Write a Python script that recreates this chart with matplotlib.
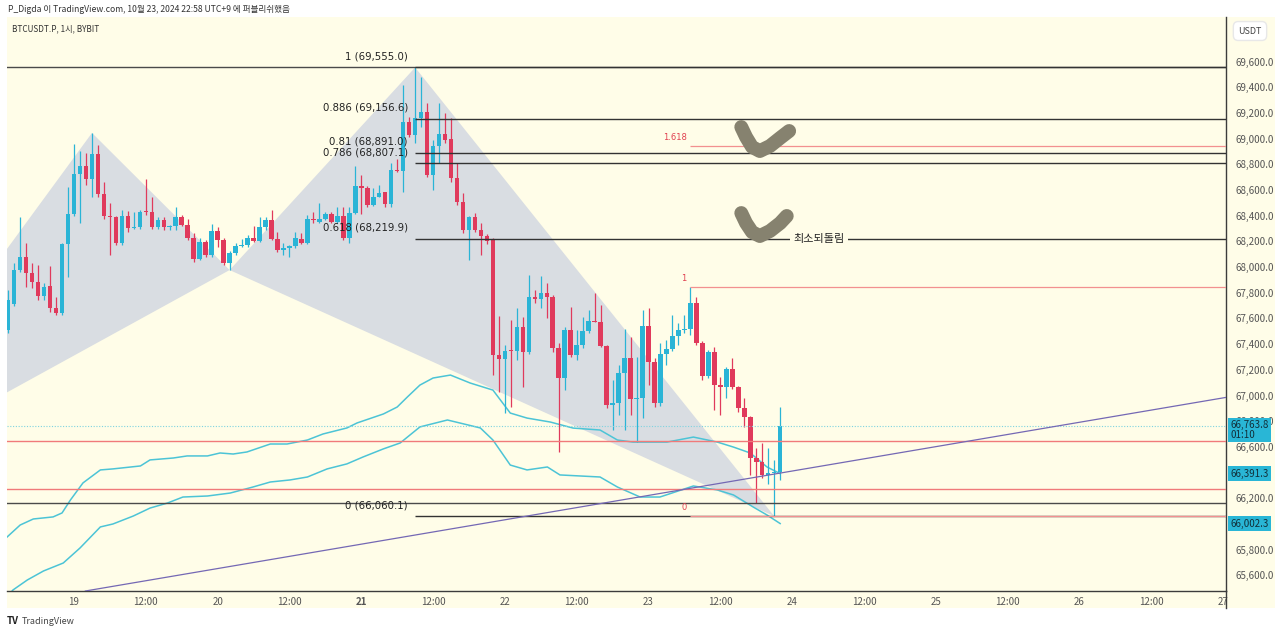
import matplotlib
matplotlib.use('Agg')
import matplotlib.pyplot as plt
import matplotlib.transforms as mtransforms
from matplotlib.patches import Polygon, Rectangle
from matplotlib.lines import Line2D
import numpy as np

plt.rcParams['font.family'] = ['Noto Sans CJK KR', 'DejaVu Sans']

# BTCUSDT.P 1h candles, hour 0 = 10/19 00:00 (UTC+9)
hours = list(range(-11, 119))
opens = [67509, 67713, 67977, 68079, 67954, 67884, 67775, 67853, 67681, 67642,
         68180, 68414, 68725, 68787, 68686, 68881, 68569, 68398, 68390, 68186,
         68398, 68304, 68312, 68437, 68429, 68312, 68367, 68312, 68320, 68390,
         68327, 68227, 68063, 68195, 68094, 68281, 68211, 68032, 68110, 68165,
         68172, 68227, 68203, 68312, 68367, 68219, 68133, 68149, 68165, 68219,
         68186, 68375, 68351, 68375, 68414, 68351, 68398, 68227, 68421, 68632,
         68616, 68484, 68546, 68585, 68491, 68756, 68748, 69130, 69029, 69161,
         69208, 68717, 68943, 69037, 68998, 68694, 68507, 68288, 68390, 68288,
         68242, 68211, 67315, 67284, 67355, 67346, 67533, 67338, 67767, 67751,
         67798, 67767, 67370, 67136, 67510, 67315, 67393, 67502, 67580, 67572,
         67385, 66925, 66941, 67175, 67292, 66972, 66980, 67541, 67260, 66941,
         67323, 67362, 67463, 67510, 67517, 67720, 67408, 67151, 67338, 67081,
         67066, 67206, 67066, 66902, 66832, 66512, 66481, 66380, 66396, 66404]
highs = [67821, 68032, 68390, 68186, 68032, 68016, 67876, 68009, 67767, 68190,
         68624, 68959, 68904, 68888, 69045, 68950, 68662, 68499, 68395, 68445,
         68437, 68429, 68445, 68686, 68546, 68390, 68390, 68327, 68468, 68406,
         68375, 68265, 68227, 68211, 68335, 68312, 68227, 68126, 68186, 68219,
         68250, 68320, 68390, 68390, 68445, 68273, 68186, 68172, 68273, 68265,
         68406, 68429, 68499, 68429, 68429, 68468, 68468, 68468, 68787, 68717,
         68632, 68616, 68640, 68585, 68811, 68842, 69419, 69169, 69555, 69481,
         69278, 68990, 69278, 69200, 69161, 68811, 68577, 68395, 68421, 68343,
         68258, 68227, 67619, 67393, 67588, 67680, 67611, 67938, 67821, 67930,
         67876, 67782, 67408, 67533, 67689, 67510, 67611, 67665, 67798, 67704,
         67393, 67120, 67237, 67517, 67455, 67300, 67665, 67680, 67292, 67408,
         67431, 67627, 67564, 67627, 67843, 67767, 67424, 67355, 67377, 67144,
         67222, 67292, 67073, 66980, 66840, 66590, 66629, 66590, 66496, 66910]
lows = [67486, 67697, 67961, 67845, 67837, 67744, 67744, 67650, 67627, 67627,
        67923, 68400, 68343, 68640, 68546, 68546, 68375, 68094, 68170, 68170,
        68273, 68300, 68300, 68406, 68300, 68300, 68290, 68290, 68290, 68320,
        68211, 68040, 68055, 68079, 68079, 68157, 68016, 67977, 68094, 68157,
        68157, 68195, 68195, 68290, 68211, 68118, 68094, 68079, 68149, 68180,
        68180, 68343, 68343, 68367, 68343, 68343, 68211, 68186, 68414, 68414,
        68468, 68476, 68546, 68468, 68468, 68740, 68585, 69010, 68967, 69091,
        68701, 68600, 68811, 68967, 68662, 68484, 68265, 68055, 68273, 68094,
        68180, 67159, 67027, 66863, 66910, 67276, 67066, 67323, 67720, 67680,
        67603, 67338, 66560, 67042, 67300, 67276, 67370, 67487, 67572, 67377,
        66902, 66730, 66847, 66730, 66847, 66637, 66824, 67081, 66910, 66918,
        67237, 67346, 67393, 67487, 67470, 67393, 67120, 67136, 66886, 66847,
        66980, 67050, 66871, 66754, 66380, 66161, 66357, 66310, 66060.1, 66340]
closes = [67743, 67977, 68079, 67954, 67884, 67775, 67845, 67681, 67642, 68180,
          68414, 68725, 68787, 68686, 68881, 68569, 68398, 68390, 68186, 68398,
          68304, 68312, 68429, 68429, 68312, 68367, 68312, 68320, 68390, 68327,
          68227, 68063, 68195, 68094, 68281, 68211, 68032, 68110, 68165, 68172,
          68227, 68203, 68312, 68367, 68219, 68133, 68149, 68165, 68227, 68186,
          68375, 68367, 68375, 68414, 68351, 68398, 68227, 68421, 68632, 68616,
          68484, 68546, 68577, 68491, 68756, 68748, 69130, 69029, 69161, 69208,
          68717, 68943, 69037, 68990, 68694, 68507, 68288, 68390, 68288, 68242,
          68203, 67315, 67284, 67346, 67346, 67533, 67338, 67767, 67751, 67798,
          67767, 67370, 67136, 67510, 67315, 67393, 67502, 67580, 67572, 67385,
          66925, 66941, 67175, 67292, 66972, 66980, 67541, 67260, 66941, 67323,
          67362, 67463, 67510, 67517, 67720, 67408, 67151, 67338, 67081, 67066,
          67206, 67066, 66902, 66832, 66512, 66481, 66380, 66396, 66404, 66763.8]

# band lines, sampled along the curves
upper_h = [-11.2, -9, -6.8, -3.5, -2, -0.6, 1.5, 4.4, 6.5, 11.1, 12.7, 16.6, 18.9,
           22.3, 24.4, 26.6, 28.9, 32.8, 35.6, 39, 41.6, 45.6, 47.3, 51.7, 54, 55.7,
           57.8, 60, 62.9, 66.2, 70, 72.9, 75.7, 79.6, 83.4, 87.9, 90.8, 93.4, 99.1,
           103.5, 107.5, 110.2, 113, 115.8, 118]
upper_p = [65897, 65991, 66038, 66054, 66085, 66186, 66319, 66420, 66428, 66451,
           66498, 66513, 66529, 66529, 66552, 66544, 66560, 66622, 66622, 66653,
           66700, 66747, 66786, 66856, 66910, 66988, 67081, 67136, 67159, 67097,
           67042, 66863, 66824, 66793, 66746, 66731, 66653, 66637, 66637, 66676,
           66637, 66598, 66552, 66443, 66391.3]
lower_h = [-11.2, -10.2, -7.8, -5.1, -1.8, 1, 4.4, 6.5, 9.9, 12.7, 15.6, 18.2, 22.3,
           26.1, 29.9, 32.8, 36.1, 39, 42.3, 45.6, 48.3, 51.7, 54.5, 57.8, 62.4, 67.9,
           70, 72.9, 75.7, 79.1, 81.2, 87.9, 90.8, 94.6, 97.9, 103.5, 107.5, 110.2,
           113.5, 115.8, 118]
lower_p = [65430, 65485, 65563, 65633, 65695, 65812, 65976, 65999, 66061, 66123,
           66162, 66209, 66217, 66240, 66287, 66326, 66342, 66365, 66428, 66467,
           66521, 66584, 66630, 66755, 66809, 66747, 66653, 66458, 66420, 66443,
           66381, 66365, 66287, 66209, 66209, 66295, 66264, 66225, 66131, 66069,
           66002.3]

# XABCD pattern
pat_h = [-40.6, 3, 26, 57, 117]
pat_p = [66271, 69045, 67977, 69555, 66060.1]

fib1_names = ['1', '0.886', '0.81', '0.786', '0.618', '0']
fib1_prices = [69555.0, 69156.6, 68891.0, 68807.1, 68219.9, 66060.1]
fib1_start = 57
fib2_names = ['1.618', '1', '0']
fib2_prices = [68945.0, 67843.0, 66060.1]
fib2_start = 103

dark_lines = [69555.0, 66160]
red_lines = [66647, 66271]
last_price = 66763.8
band_last = [66391.3, 66002.3]
trend_h = [0, 192]
trend_p = [65462, 66981]

check1_h = [111.5, 112.3, 113.3, 114.6, 116.3, 118.0, 119.5]
check1_p = [69091, 69013, 68936, 68904, 68943, 69006, 69060]
check2_h = [111.5, 112.3, 113.3, 114.6, 116.3, 118.0, 119.1]
check2_p = [68421, 68343, 68273, 68242, 68281, 68343, 68398]

xtick_h = list(range(0, 193, 12))
xtick_labels = ['19', '12:00', '20', '12:00', '21', '12:00', '22', '12:00', '23',
                '12:00', '24', '12:00', '25', '12:00', '26', '12:00', '27']
# 66,400 and 66,000 are hidden behind the price labels
ytick_p = [65600, 65800, 66200, 66600, 66800, 67000, 67200, 67400, 67600, 67800,
           68000, 68200, 68400, 68600, 68800, 69000, 69200, 69400, 69600]

cream = '#fffde8'
up_c = '#2ab4d6'
dn_c = '#e03a5c'
W, H = 1280, 634


def fx(px):
    return px / W


def fy(py):
    return 1 - py / H


fig = plt.figure(figsize=(12.8, 6.34), dpi=100)
fig.patches.append(Rectangle((fx(7), fy(608)), fx(1275) - fx(7), fy(17) - fy(608),
                             transform=fig.transFigure, facecolor=cream, edgecolor='none', zorder=-10))
ax = fig.add_axes([fx(7), fy(591), fx(1226) - fx(7), fy(17) - fy(591)])
ax.set_zorder(1)
ax.set_facecolor(cream)
ax.set_xlim(-11.2, 192.5)
ax.set_ylim(65477, 69948)

# pattern shading
ax.add_patch(Polygon(list(zip(pat_h[0:3], pat_p[0:3])), closed=True,
                     facecolor='#d9dde2', edgecolor='none', zorder=1))
ax.add_patch(Polygon(list(zip(pat_h[2:5], pat_p[2:5])), closed=True,
                     facecolor='#d9dde2', edgecolor='none', zorder=1))

# bands
ax.plot(upper_h, upper_p, color='#4cc4d6', lw=1.1, zorder=2)
ax.plot(lower_h, lower_p, color='#4cc4d6', lw=1.1, zorder=2)

# candles
for h, o, hi, lo, c in zip(hours, opens, highs, lows, closes):
    col = up_c if c >= o else dn_c
    ax.vlines(h, lo, hi, color=col, lw=0.9, zorder=3)
    bot = min(o, c)
    ht = abs(c - o)
    if ht < 9:
        bot = (o + c) / 2 - 4.5
        ht = 9
    ax.bar(h, ht, bottom=bot, width=0.76, color=col, edgecolor='none', zorder=3)

# horizontal lines
for p in dark_lines:
    ax.axhline(p, color='#4a4a4a', lw=1, zorder=4)
for p in red_lines:
    ax.axhline(p, color='#f07a7a', lw=1, zorder=4)
ax.axhline(last_price, color='#7fd3e0', lw=0.8, ls=(0, (1, 1.5)), zorder=4)

# fib retracement (black)
for name, p in zip(fib1_names, fib1_prices):
    ax.hlines(p, fib1_start, 192.5, color='#333333', lw=1, zorder=4)
    ax.annotate(f'{name} ({p:,.1f})', xy=(fib1_start - 1.2, p), xytext=(0, 8),
                textcoords='offset points', ha='right', va='center',
                fontsize=7.3, color='#222222', family='DejaVu Sans', zorder=5)

# fib extension (red)
for name, p in zip(fib2_names, fib2_prices):
    ax.hlines(p, fib2_start, 192.5, color='#f29090', lw=0.9, zorder=4)
    ax.annotate(name, xy=(fib2_start - 0.6, p), xytext=(0, 6),
                textcoords='offset points', ha='right', va='center',
                fontsize=6, color='#e0404f', family='DejaVu Sans', zorder=5)

# trend line
ax.axline((trend_h[0], trend_p[0]), (trend_h[1], trend_p[1]), color='#7468b4', lw=0.9, zorder=4)

# brush checkmarks
for hh, pp in [(check1_h, check1_p), (check2_h, check2_p)]:
    ax.plot(hh, pp, color='#86826f', lw=10, solid_capstyle='round',
            solid_joinstyle='round', zorder=6)

ax.text(124.5, fib1_prices[4], '최소되돌림', ha='center', va='center', fontsize=8,
        color='#222222', zorder=6,
        bbox=dict(facecolor=cream, edgecolor='none', boxstyle='square,pad=0.3'))

# axes styling
for s in ['left', 'top']:
    ax.spines[s].set_visible(False)
ax.spines['bottom'].set_color('#3c3c3c')
ax.spines['right'].set_color('#3c3c3c')
ax.spines['bottom'].set_linewidth(1)
ax.spines['right'].set_linewidth(1)
ax.yaxis.tick_right()
ax.set_yticks(ytick_p)
ax.set_yticklabels([f'{v:,.1f}' for v in ytick_p])
ax.set_xticks(xtick_h)
ax.set_xticklabels(xtick_labels)
ax.tick_params(axis='both', length=0, labelsize=7, colors='#555555')
ax.tick_params(axis='y', pad=7)
ax.tick_params(axis='x', pad=4)
for lab in ax.get_xticklabels():
    if lab.get_text() == '21':
        lab.set_fontweight('bold')

# price labels on the scale
trans = mtransforms.blended_transform_factory(ax.transAxes, ax.transData)
ax.annotate(f'{last_price:,.1f}\n01:10', xy=(1.0, last_price), xycoords=trans,
            xytext=(3, 4), textcoords='offset points', ha='left', va='top',
            fontsize=7, color='#12303a', linespacing=0.95, annotation_clip=False,
            bbox=dict(facecolor='#29b6d6', edgecolor='none', boxstyle='square,pad=0.25'),
            zorder=10)
for p in band_last:
    ax.annotate(f'{p:,.1f}', xy=(1.0, p), xycoords=trans, xytext=(3, 0),
                textcoords='offset points', ha='left', va='center', fontsize=7,
                color='#12303a', annotation_clip=False,
                bbox=dict(facecolor='#29b6d6', edgecolor='none', boxstyle='square,pad=0.25'),
                zorder=10)

fig.add_artist(Line2D([fx(1226), fx(1226)], [fy(591), fy(608)], transform=fig.transFigure,
                      color='#3c3c3c', lw=1))
fig.text(fx(1250), fy(31), 'USDT', ha='center', va='center', fontsize=6.5, color='#444444',
         bbox=dict(facecolor='white', edgecolor='#e8e8e8', boxstyle='round,pad=0.55'))

# header / footer
fig.text(fx(8), fy(10), 'P_Digda 이 TradingView.com, 10월 23, 2024 22:58 UTC+9 에 퍼블리쉬했음',
         fontsize=6.2, color='#333333', va='center')
fig.text(fx(12), fy(29), 'BTCUSDT.P, 1시, BYBIT', fontsize=5.9, color='#333333', va='center')
fig.text(fx(7), fy(621), 'TV', fontsize=7, fontweight='bold', color='#222222', va='center')
fig.text(fx(22), fy(621), 'TradingView', fontsize=6.5, color='#444444', va='center')

fig.savefig('out.png', dpi=100, facecolor='white')
